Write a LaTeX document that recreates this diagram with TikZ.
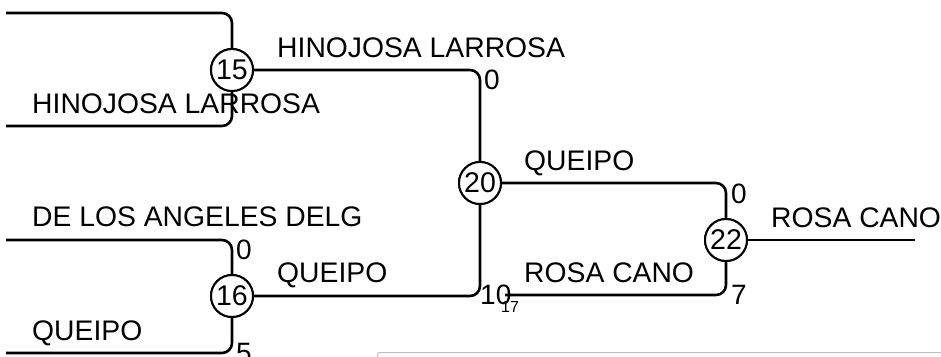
\documentclass[tikz,border=0pt]{standalone}
\usepackage{fontspec}
\setmainfont{Liberation Sans}
\definecolor{boxgray}{RGB}{192,192,192}
\begin{document}
\begin{tikzpicture}[x=1pt,y=-1pt,
  edge/.style={line width=2.6pt, rounded corners=10pt},
  match/.style={circle, draw, line width=2pt, fill=white, minimum size=42pt, inner sep=0pt, font=\fontsize{28.5}{30}\selectfont},
  lbl/.style={anchor=base west, inner sep=0pt, font=\fontsize{28.3}{30}\selectfont},
  num/.style={anchor=base west, inner sep=0pt, font=\fontsize{28}{30}\selectfont},
  small/.style={anchor=base, inner sep=0pt, font=\fontsize{16}{18}\selectfont}]
\useasboundingbox (0,0) rectangle (941,356);
% end points
\coordinate (a1) at (6,13);
\coordinate (a2) at (6,126);
\coordinate (a3) at (6,240);
\coordinate (a4) at (6,353);
\coordinate (b17) at (505,295);
\coordinate (e22) at (915,240);
% match nodes
\node[match] (n15) at (232,70) {15};
\node[match] (n16) at (232,296) {16};
\node[match] (n20) at (480,183) {20};
\node[match] (n22) at (726,240) {22};
% connectors
\draw[edge] (a1) -| (n15);
\draw[edge] (a2) -| (n15);
\draw[edge] (a3) -| (n16);
\draw[edge] (a4) -| (n16);
\draw[edge] (n15) -| (n20);
\draw[edge] (n16) -| (n20);
\draw[edge] (n20) -| (n22);
\draw[edge] (b17) -| (n22);
\draw[edge] (n22) -- (e22);
% circles again on top of the connectors
\node[match] at (n15) {15};
\node[match] at (n16) {16};
\node[match] at (n20) {20};
\node[match] at (n22) {22};
% player labels
\node[lbl] (l1) at (277,57) {HINOJOSA LARROSA};
\node[lbl] (l2) at (32,113) {HINOJOSA LARROSA};
\node[lbl] (l3) at (32,226) {DE LOS ANGELES DELG};
\node[lbl] (l4) at (32,340) {QUEIPO};
\node[lbl] (l5) at (277,282) {QUEIPO};
\node[lbl] (l6) at (524,170) {QUEIPO};
\node[lbl] (l7) at (524,282) {ROSA CANO};
\node[lbl] (l8) at (771,227) {ROSA CANO};
% scores
\node[num] (s1) at (484,89) {0};
\node[num] (s2) at (236,259) {0};
\node[num] (s3) at (236,362) {5};
\node[num] (s4) at (480,304) {10};
\node[num] (s5) at (731,203) {0};
\node[num] (s6) at (731,304) {7};
\node[small] (s7) at (510,312) {17};
% grey panel edge
\draw[boxgray, line width=1pt, rounded corners=2pt] (377.5,360) -- (377.5,352.5) -- (950,352.5);
\end{tikzpicture}
\end{document}
